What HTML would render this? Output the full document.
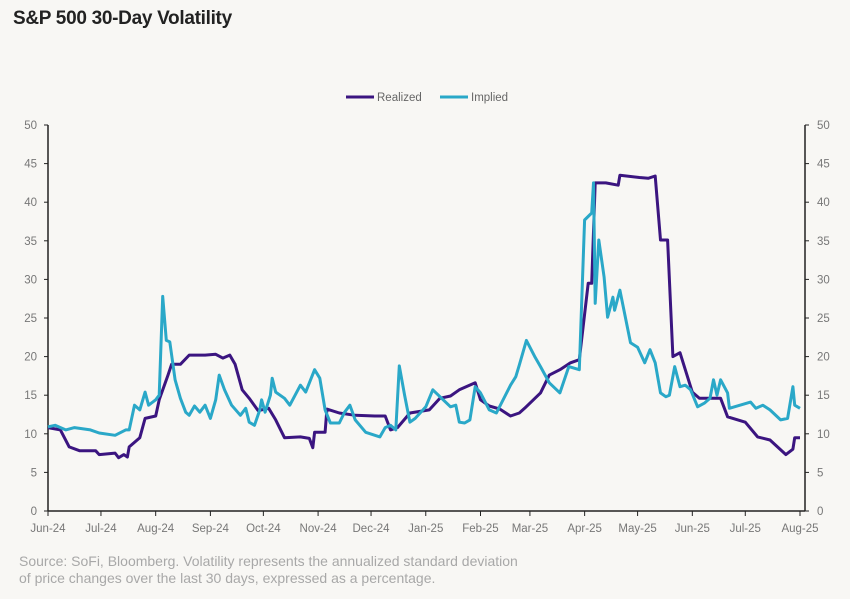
<!DOCTYPE html>
<html><head><meta charset="utf-8"><style>
body{margin:0;background:#fff;}
#wrap{position:relative;width:850px;height:599px;background:#f8f7f4;font-family:"Liberation Sans",sans-serif;}
#title{position:absolute;left:13px;top:8px;font-size:19px;font-weight:bold;color:#222;letter-spacing:-0.3px;}
#note{position:absolute;left:19px;top:553px;font-size:14px;color:#a8a8a8;line-height:17px;}
svg{position:absolute;left:0;top:0;}
</style></head><body>
<div id="wrap">
<div id="title">S&amp;P 500 30-Day Volatility</div>
<svg id="chart" width="850" height="599"></svg>
<div id="note">Source: SoFi, Bloomberg. Volatility represents the annualized standard deviation<br>of price changes over the last 30 days, expressed as a percentage.</div>
</div>
<script>
const monthLabels=["Jun-24","Jul-24","Aug-24","Sep-24","Oct-24","Nov-24","Dec-24","Jan-25","Feb-25","Mar-25","Apr-25","May-25","Jun-25","Jul-25","Aug-25"];
const monthDays=[0,30,61,92,122,153,183,214,245,273,304,334,365,395,426];
const yTicks=[0,5,10,15,20,25,30,35,40,45,50];
const realizedDays=[0,7,12,18,27,29,38,40,43,45,46,52,55,61,63,68,70,75,80,89,95,99,103,106,110,114,119,125,129,134,143,148,150,151,157,158,165,174,185,191,194,198,205,216,222,228,233,242,245,250,256,262,267,270,279,284,290,296,301,306,308,310,316,323,324,335,340,344,347,351,354,358,361,365,369,381,385,395,402,409,418,422,423,426];
const realizedVals=[10.8,10.5,8.3,7.8,7.8,7.3,7.5,6.9,7.3,7.0,8.3,9.5,12,12.3,14.4,17.6,19,19,20.2,20.2,20.3,19.8,20.2,19,15.7,14.6,13,13.3,11.8,9.5,9.6,9.4,8.2,10.2,10.2,13.2,12.7,12.4,12.3,12.3,10.5,10.8,12.7,13.1,14.6,14.9,15.7,16.6,14.4,13.6,13.2,12.3,12.7,13.3,15.3,17.6,18.3,19.2,19.6,29.5,29.5,42.5,42.5,42.2,43.5,43.2,43.1,43.4,35.1,35.1,20,20.5,18.3,15.4,14.6,14.6,12.2,11.5,9.6,9.2,7.3,8.0,9.5,9.5];
const impliedDays=[0,4,10,15,24,29,38,44,46,49,52,55,57,61,63,65,67,69,72,75,78,80,83,86,89,92,95,97,100,104,109,112,114,117,120,121,123,126,127,129,134,137,143,146,151,154,157,160,165,168,171,174,180,188,191,194,197,199,202,205,208,214,218,228,231,233,236,239,242,245,250,254,262,265,267,271,276,279,284,290,295,301,304,308,309,310,312,315,317,320,321,324,330,334,338,341,344,347,350,352,355,358,361,364,368,372,375,377,379,381,385,386,392,398,401,405,409,415,419,422,423,426];
const impliedVals=[10.9,11.1,10.5,10.8,10.5,10.1,9.8,10.5,10.5,13.7,13.1,15.4,13.7,14.4,15.0,27.8,22.1,21.9,17.0,14.6,12.8,12.4,13.6,12.8,13.7,12.0,14.4,17.6,15.7,13.7,12.4,13.3,11.5,11.1,13.1,14.4,12.8,15.0,17.2,15.4,14.6,13.7,16.3,15.4,18.3,17.2,13.1,11.4,11.4,12.8,13.7,11.8,10.2,9.6,10.8,11.1,10.5,18.8,15.0,11.5,12.0,13.5,15.7,13.5,13.7,11.5,11.4,11.8,16.1,15.3,13.1,12.7,16.3,17.4,18.9,22.1,19.9,18.7,16.6,15.3,18.7,18.3,37.7,38.6,42.5,26.9,35.1,30.3,25.1,27.7,26.0,28.6,21.8,21.2,19.2,20.9,19.2,15.3,14.8,15.0,18.7,16.1,16.3,15.7,13.5,14.0,14.6,17.0,15.0,17.0,15.3,13.3,13.7,14.1,13.3,13.7,13.1,11.8,12.0,16.1,13.7,13.3];

const svg=document.getElementById('chart');
const NS='http://www.w3.org/2000/svg';
const X0=48,X1=800,Y0=511,Y1=125,RX=805;
function xS(d){return X0+(X1-X0)*d/426;}
function yS(v){return Y0-(Y0-Y1)*v/50;}
function mk(tag,attrs,parent){const e=document.createElementNS(NS,tag);for(const k in attrs)e.setAttribute(k,attrs[k]);(parent||svg).appendChild(e);return e;}

let a=mk('line',{x1:X0,y1:Y1,x2:X0,y2:Y0,stroke:'#222','stroke-width':1.5});


a=mk('line',{x1:RX,y1:Y1,x2:RX,y2:Y0,stroke:'#222','stroke-width':1.5});


a=mk('line',{x1:X0,y1:Y0,x2:RX,y2:Y0,stroke:'#222','stroke-width':1.5});



yTicks.forEach(v=>{
  const y=yS(v);
  mk('line',{x1:X0-4,y1:y,x2:X0,y2:y,stroke:'#222','stroke-width':1});
  mk('line',{x1:RX,y1:y,x2:RX+4,y2:y,stroke:'#222','stroke-width':1});
  let t=mk('text',{x:37,y:y+4,'text-anchor':'end','font-size':11.5,fill:'#777'});
  t.textContent=v;
  
  
  t=mk('text',{x:817,y:y+4,'text-anchor':'start','font-size':11.5,fill:'#777'});
  t.textContent=v;
  
  
});
monthDays.forEach((d,i)=>{
  const x=xS(d);
  mk('line',{x1:x,y1:Y0,x2:x,y2:Y0+5,stroke:'#222','stroke-width':1});
  const t=mk('text',{x:x,y:532,'text-anchor':'middle','font-size':11.5,fill:'#777'});
  t.textContent=monthLabels[i];
  
  
});

function line(days,vals,color,name){
  const p=days.map((d,i)=>(i?'L':'M')+xS(d).toFixed(1)+' '+yS(vals[i]).toFixed(1)).join(' ');
  const e=mk('path',{d:p,fill:'none',stroke:color,'stroke-width':3,'stroke-linejoin':'round'});
  
  
}
line(realizedDays,realizedVals,'#3b1580','realized-line');
line(impliedDays,impliedVals,'#2aa8c8','implied-line');

const lg=mk('g',{});


mk('line',{x1:346,y1:97,x2:374,y2:97,stroke:'#3b1580','stroke-width':3},lg);
let t=mk('text',{x:377,y:101,'font-size':11.5,fill:'#666'},lg);t.textContent='Realized';


mk('line',{x1:440,y1:97,x2:468,y2:97,stroke:'#2aa8c8','stroke-width':3},lg);
t=mk('text',{x:471,y:101,'font-size':11.5,fill:'#666'},lg);t.textContent='Implied';


</script>
</body></html>
